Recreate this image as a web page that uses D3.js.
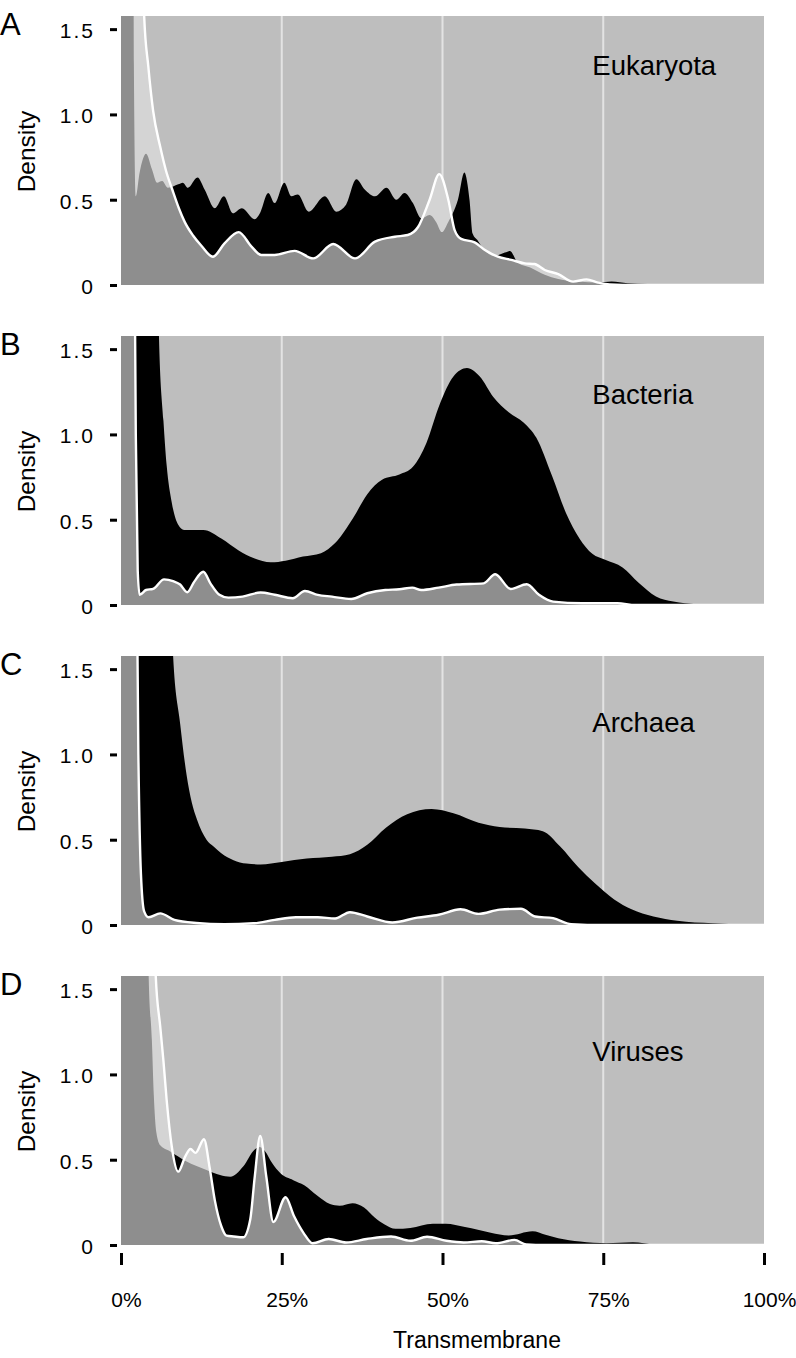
<!DOCTYPE html>
<html><head><meta charset="utf-8">
<script src="https://cdn.jsdelivr.net/npm/d3@7"></script>
<style>
body{margin:0;background:#fff;}
text{font-family:"Liberation Sans",Arial,Helvetica,sans-serif;fill:#000;}
</style>
</head><body>
<svg id="chart" width="796" height="1358"></svg>
<script>
// ---------- data ----------
const panelNames = ["Eukaryota", "Bacteria", "Archaea", "Viruses"];
const panelLetters = ["A", "B", "C", "D"];
const yTickValues = [0, 0.5, 1.0, 1.5];
const yTickLabels = ["0", "0.5", "1.0", "1.5"];
const xTickValues = [0, 25, 50, 75, 100];
const xTickLabels = ["0%", "25%", "50%", "75%", "100%"];
const gridValues = [25, 50, 75];
const titleValues = [1.23, 1.18, 1.13, 1.08]; // density level of each panel title

// [transmembrane %, density]
const eukaryotaBlack = [[0,4],[1.8,4],[2.0,1.3],[2.3,0.52],[2.9,0.66],[3.9,0.77],[4.8,0.68],[5.6,0.6],[6.4,0.61],[7.3,0.57],[8.9,0.59],[9.6,0.6],[10.4,0.57],[11.9,0.63],[13.0,0.56],[14.6,0.45],[16.0,0.52],[17.4,0.42],[18.8,0.45],[20.8,0.385],[21.6,0.42],[22.9,0.54],[23.9,0.48],[25.4,0.60],[26.5,0.52],[27.5,0.53],[29.2,0.43],[31.7,0.52],[33.5,0.43],[35.0,0.47],[36.6,0.62],[37.9,0.56],[39.5,0.52],[41.3,0.57],[42.8,0.50],[44.1,0.54],[45.4,0.48],[46.7,0.39],[48.0,0.41],[49.0,0.37],[49.9,0.31],[50.9,0.37],[51.6,0.42],[52.4,0.5],[53.4,0.66],[54.2,0.5],[54.7,0.30],[55.5,0.26],[56.5,0.205],[58.1,0.17],[59.7,0.19],[60.5,0.2],[61.7,0.13],[63.8,0.10],[65.9,0.06],[68.0,0.035],[71.1,0.02],[74.2,0.014],[76.3,0.02],[78.8,0.01],[85,0.003],[90,0],[100,0]];
const eukaryotaWhite = [[0,4],[3.0,2.6],[3.6,1.58],[4.25,1.28],[5.0,1.02],[6.1,0.81],[7.0,0.67],[8.0,0.557],[9.0,0.45],[9.9,0.37],[11.2,0.29],[12.5,0.23],[14.3,0.166],[16.1,0.244],[18.3,0.31],[20.3,0.225],[21.8,0.176],[23.9,0.176],[27.0,0.2],[29.9,0.156],[33.0,0.24],[36.4,0.156],[39.5,0.254],[42.6,0.283],[44.6,0.293],[46.2,0.34],[48.0,0.5],[49.5,0.65],[50.9,0.5],[51.9,0.32],[52.9,0.27],[55.0,0.25],[56.6,0.205],[58.6,0.166],[60.7,0.147],[62.8,0.127],[64.3,0.123],[65.9,0.088],[68.0,0.064],[70.3,0.02],[72.4,0.033],[74.2,0.014],[76,0.003],[80,0],[100,0]];

const bacteriaBlack = [[0,4],[5.5,4],[5.9,1.58],[6.6,1.08],[7.1,0.82],[7.9,0.6],[8.9,0.47],[9.8,0.44],[12.8,0.44],[15.6,0.39],[18.3,0.32],[20.6,0.275],[23.3,0.25],[25.6,0.26],[28.3,0.284],[31.1,0.304],[33.3,0.363],[36.1,0.51],[38.3,0.65],[40.6,0.735],[43.3,0.765],[45.4,0.81],[47.5,0.95],[49.6,1.18],[51.7,1.34],[53.8,1.39],[55.8,1.34],[57.9,1.22],[60.3,1.13],[62.6,1.07],[64.6,0.98],[67.0,0.76],[69.2,0.54],[71.3,0.39],[73.3,0.30],[75.3,0.265],[78.0,0.22],[80.5,0.13],[83.2,0.05],[85.9,0.02],[89.5,0.005],[95,0],[100,0]];
const bacteriaWhite = [[0,4],[1.9,3],[2.3,1.0],[2.6,0.2],[2.9,0.06],[3.9,0.088],[5.0,0.095],[6.7,0.15],[8.1,0.14],[9.2,0.12],[10.3,0.075],[11.4,0.137],[12.8,0.195],[13.9,0.127],[15.3,0.06],[16.7,0.043],[18.9,0.049],[21.7,0.073],[23.9,0.06],[26.7,0.04],[28.6,0.082],[30.6,0.059],[32.8,0.049],[35.8,0.035],[38.3,0.069],[41.1,0.088],[43.3,0.092],[45.3,0.102],[46.7,0.088],[49.4,0.102],[52.2,0.12],[56.4,0.127],[58.2,0.18],[60.6,0.094],[63.1,0.122],[65.0,0.06],[67.2,0.02],[71.7,0.01],[77.2,0.01],[80,0],[100,0]];

const archaeaBlack = [[0,4],[7.6,4],[8.1,1.58],[9.2,1.18],[10.2,0.88],[11.0,0.72],[11.8,0.62],[13.3,0.5],[14.4,0.46],[15.6,0.42],[17.5,0.38],[19.5,0.36],[21.7,0.355],[25,0.37],[28.9,0.39],[32.8,0.40],[35.6,0.415],[38.3,0.47],[41.2,0.57],[44.5,0.65],[48.3,0.68],[51.7,0.655],[55.6,0.60],[58.9,0.575],[62.8,0.565],[65.6,0.55],[68.3,0.46],[71.1,0.34],[73.7,0.245],[76.7,0.15],[79.4,0.092],[82.8,0.05],[86.5,0.025],[92,0.01],[97,0.003],[100,0]];
const archaeaWhite = [[0,4],[2.2,3],[2.7,1.0],[3.1,0.3],[3.6,0.08],[4.3,0.045],[6.1,0.068],[8.3,0.03],[11.7,0.012],[16.1,0.005],[20.6,0.01],[23.9,0.03],[27.2,0.045],[30.6,0.045],[33.3,0.038],[35.6,0.075],[38.3,0.05],[42.2,0.015],[46.1,0.043],[49.4,0.06],[52.8,0.092],[55.6,0.065],[58.9,0.09],[62.2,0.095],[64.4,0.05],[67.2,0.04],[70,0.005],[75,0],[100,0]];

const virusesBlack = [[0,4],[3.8,4],[4.3,1.58],[4.8,1.2],[5.1,0.88],[5.5,0.66],[6.1,0.585],[7.6,0.55],[10.2,0.49],[13.3,0.44],[15.4,0.41],[17.0,0.40],[19.0,0.46],[20.8,0.56],[21.6,0.575],[22.4,0.55],[23.5,0.48],[24.8,0.42],[26.8,0.38],[28.5,0.35],[30.5,0.29],[32.5,0.24],[34.0,0.23],[36.0,0.245],[37.8,0.22],[39.5,0.16],[41.0,0.12],[42.7,0.095],[45.0,0.1],[48.5,0.125],[50.5,0.125],[53.5,0.105],[57.5,0.072],[60.3,0.055],[64.0,0.08],[66.0,0.06],[68.0,0.04],[71.4,0.02],[75.5,0.01],[79.6,0.016],[83,0.004],[90,0],[100,0]];
const virusesWhite = [[0,4],[5.0,2.3],[5.4,1.58],[6.1,1.28],[6.6,1.08],[7.1,0.85],[7.9,0.576],[8.9,0.43],[10.0,0.52],[10.8,0.563],[11.6,0.54],[12.9,0.62],[13.8,0.45],[14.6,0.26],[15.6,0.11],[16.4,0.055],[17.5,0.05],[19.0,0.045],[20.1,0.15],[20.8,0.40],[21.65,0.64],[22.6,0.40],[23.7,0.135],[25.6,0.28],[26.9,0.17],[28.4,0.07],[29.8,0.01],[32.3,0.035],[35.0,0.015],[38.2,0.035],[42.0,0.05],[45.0,0.025],[47.6,0.048],[50.6,0.025],[53.3,0.015],[56.1,0.022],[58.3,0.01],[61.2,0.03],[63.0,0.003],[66,0],[100,0]];

const blackSeries = [eukaryotaBlack, bacteriaBlack, archaeaBlack, virusesBlack];
const whiteSeries = [eukaryotaWhite, bacteriaWhite, archaeaWhite, virusesWhite];

// ---------- layout ----------
const plotLeft = 121, plotRight = 764;
const panelTop0 = 16, panelStep = 320, plotH = 269;
const yMax = 1.577;

const svg = d3.select("#chart");
const x = d3.scaleLinear().domain([0, 100]).range([plotLeft, plotRight]);
const y = d3.scaleLinear().domain([0, yMax]).range([plotH, 0]);

const area = d3.area().curve(d3.curveMonotoneX)
  .x(d => x(d[0])).y0(y(0)).y1(d => y(d[1]));
const line = d3.line().curve(d3.curveMonotoneX)
  .x(d => x(d[0])).y(d => y(d[1]));

panelNames.forEach((name, i) => {
  const g = svg.append("g").attr("transform", `translate(0,${panelTop0 + panelStep * i})`);
  const clipId = "clip" + i;
  g.append("clipPath").attr("id", clipId)
    .append("rect").attr("x", plotLeft).attr("y", 0)
    .attr("width", plotRight - plotLeft).attr("height", plotH);

  const plot = g.append("g").attr("clip-path", `url(#${clipId})`);
  plot.append("rect").attr("x", plotLeft).attr("y", 0)
    .attr("width", plotRight - plotLeft).attr("height", plotH).attr("fill", "#bebebe");

  plot.selectAll("line.grid").data(gridValues).join("line")
    .attr("class", "grid")
    .attr("x1", d => x(d)).attr("x2", d => x(d))
    .attr("y1", 0).attr("y2", plotH)
    .attr("stroke", "#e3e3e3").attr("stroke-width", 2);

  // hide grid below the white-outlined density
  plot.append("path").datum(whiteSeries[i]).attr("d", area).attr("fill", "#bebebe");
  plot.append("path").datum(blackSeries[i]).attr("d", area).attr("fill", "#000");
  plot.append("path").datum(whiteSeries[i]).attr("d", area).attr("fill", "rgba(225,225,225,0.63)");
  plot.append("path").datum(whiteSeries[i]).attr("d", line)
    .attr("fill", "none").attr("stroke", "#fff").attr("stroke-width", 2.4);

  // y axis
  const ya = g.append("g").attr("transform", `translate(117,0)`)
    .call(d3.axisLeft(y).tickValues(yTickValues)
      .tickFormat((d, k) => yTickLabels[k]).tickSize(7).tickPadding(15));
  ya.select(".domain").remove();
  ya.selectAll(".tick line").attr("stroke", "#000").attr("stroke-width", 3);
  ya.selectAll(".tick text")
    .attr("font-family", '"Liberation Sans",Arial,sans-serif')
    .attr("font-size", 21).attr("letter-spacing", 2).attr("dy", "0.4em");

  // y label
  g.append("text").attr("transform", `translate(35,${plotH / 2 + 1}) rotate(-90)`)
    .attr("text-anchor", "middle").attr("font-size", 24.5).text("Density");

  // panel letter
  g.append("text").attr("x", 0).attr("y", 19).attr("font-size", 31).text(panelLetters[i]);

  // panel title
  g.append("text").attr("x", x(73.3)).attr("y", y(titleValues[i]))
    .attr("font-size", 27.5).text(name);

  if (i === panelNames.length - 1) {
    const xa = g.append("g").attr("transform", `translate(0,${plotH + 8})`)
      .call(d3.axisBottom(x).tickValues(xTickValues)
        .tickFormat((d, k) => xTickLabels[k]).tickSize(12).tickPadding(27));
    xa.select(".domain").remove();
    xa.selectAll(".tick line").attr("stroke", "#000").attr("stroke-width", 3);
    xa.selectAll(".tick text")
      .attr("font-family", '"Liberation Sans",Arial,sans-serif')
      .attr("font-size", 21).attr("dx", 5);
    g.append("text").attr("x", 477).attr("y", plotH + 103)
      .attr("text-anchor", "middle").attr("font-size", 23).text("Transmembrane");
  }
});
</script>
</body></html>
